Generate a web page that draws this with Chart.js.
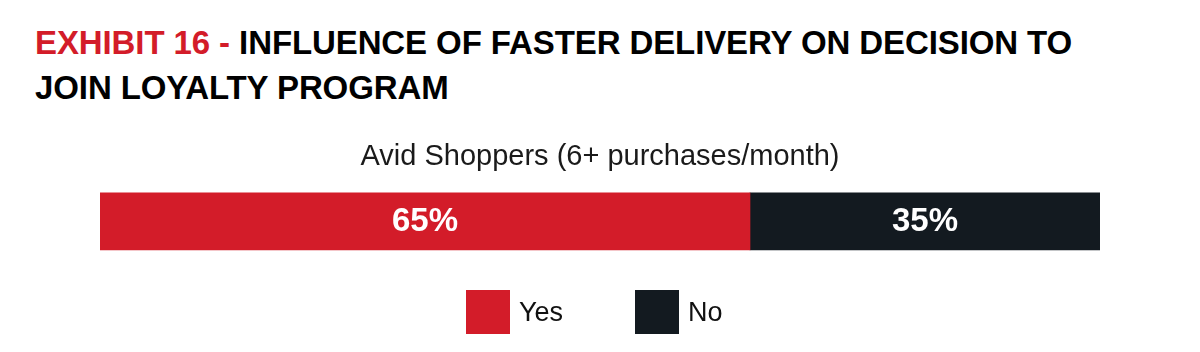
<!DOCTYPE html>
<html>
<head>
<meta charset="utf-8">
<script src="https://cdn.jsdelivr.net/npm/chart.js@4"></script>
<style>
  body { margin:0; background:#fff; font-family:'Liberation Sans', Arial, sans-serif; }
  #wrap { position:relative; width:1200px; height:352px; overflow:hidden; }
  #title { position:absolute; left:35px; top:20px; font-size:33px; font-weight:700; line-height:45px; color:#000; letter-spacing:-0.1px; }
  #title .red { color:#d31c29; }
  #chartBox { position:absolute; left:0; top:0; width:1200px; height:352px; }
  #legend { position:absolute; left:466px; top:290px; display:flex; align-items:center; font-size:27px; color:#111; }
  #legend .item { display:flex; align-items:center; }
  #legend .sw { width:44px; height:44px; margin-right:9px; }
</style>
</head>
<body>
<div id="wrap">
  <div id="title"><span class="red">EXHIBIT 16 -</span> INFLUENCE OF FASTER DELIVERY ON DECISION TO<br>JOIN LOYALTY PROGRAM</div>
  <div id="chartBox"><canvas id="barChart" width="1200" height="352"></canvas></div>
  <div id="legend"></div>
</div>
<script>
// data
const categories = ['Avid Shoppers (6+ purchases/month)'];
const seriesNames = ['Yes', 'No'];
const yesValues = [65];
const noValues = [35];
const seriesColors = ['#d31c29', '#131a20'];

// value labels in the middle of each bar segment
const centerLabels = {
  id: 'centerLabels',
  afterDatasetsDraw(chart) {
    const ctx = chart.ctx;
    ctx.save();
    ctx.font = 'bold 33px "Liberation Sans", Arial, sans-serif';
    ctx.fillStyle = '#ffffff';
    ctx.textAlign = 'center';
    ctx.textBaseline = 'middle';
    chart.data.datasets.forEach((ds, i) => {
      chart.getDatasetMeta(i).data.forEach((bar, j) => {
        const x = (bar.x + bar.base) / 2;
        ctx.fillText(ds.data[j] + '%', x, bar.y + 1);
      });
    });
    ctx.restore();
  }
};

new Chart(document.getElementById('barChart').getContext('2d'), {
  type: 'bar',
  data: {
    labels: categories,
    datasets: [
      { label: seriesNames[0], data: yesValues, backgroundColor: seriesColors[0], barThickness: 57 },
      { label: seriesNames[1], data: noValues, backgroundColor: seriesColors[1], barThickness: 57 }
    ]
  },
  options: {
    indexAxis: 'y',
    responsive: false,
    animation: false,
    layout: { padding: { top: 140, left: 100, right: 100, bottom: 87 } },
    plugins: {
      legend: { display: false },
      tooltip: { enabled: false },
      title: {
        display: true,
        text: categories[0],
        color: '#1a1a1a',
        font: { family: "'Liberation Sans', Arial, sans-serif", size: 29, weight: 'normal' },
        padding: { top: 0, bottom: 3 }
      }
    },
    scales: {
      x: { stacked: true, min: 0, max: 100, display: false },
      y: { stacked: true, display: false }
    }
  },
  plugins: [centerLabels]
});

// legend
const legendEl = document.getElementById('legend');
legendEl.innerHTML = seriesNames.map((n, i) => `
  <div class="item" style="margin-right:${i === 0 ? 72 : 0}px;">
    <div class="sw" style="background:${seriesColors[i]}"></div><span>${n}</span>
  </div>`).join('');
</script>
</body>
</html>
